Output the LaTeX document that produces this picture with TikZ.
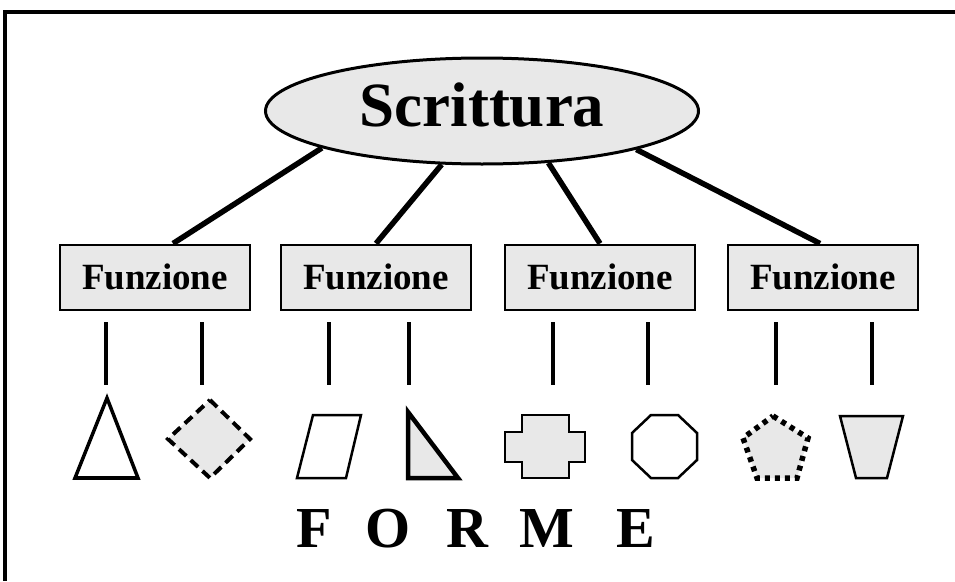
\documentclass[tikz,border=0pt]{standalone}
\usepackage{fontspec}
\setmainfont{Liberation Serif}
\usetikzlibrary{shapes.geometric,calc}
\definecolor{shade}{HTML}{E8E8E8}
\tikzset{
  topnode/.style={ellipse,draw,line width=3pt,fill=shade,minimum width=433pt,minimum height=106pt,inner sep=0pt,
    font=\fontsize{63}{70}\selectfont\bfseries,text depth=12pt},
  funbox/.style={rectangle,draw,line width=2pt,fill=shade,minimum width=190pt,minimum height=65pt,inner sep=0pt,
    font=\fontsize{37}{40}\selectfont\bfseries},
  branch/.style={line width=5.5pt},
  stem/.style={line width=3.5pt},
  frameline/.style={line width=4.5pt},
  formstyle/.style={fill=white,draw,line width=2.5pt,line join=miter},
}
\begin{document}
\begin{tikzpicture}[x=1pt,y=-1pt]
\useasboundingbox (0,0) rectangle (955,581);
% frame (cut off at right and bottom)
\draw[frameline] (955,12) -- (5,12) -- (5,581);
% top node
\node[topnode] (e) at (482,111) {Scrittura};
% function boxes
\node[funbox] (f1) at (155,277) {Funzione};
\node[funbox] (f2) at (376,277) {Funzione};
\node[funbox] (f3) at (600,277) {Funzione};
\node[funbox] (f4) at (823,277) {Funzione};
% branches
\draw[branch] (e.193.5) -- ($(f1.north)+(18,0)$);
\draw[branch] (e.233) -- (f2.north);
\draw[branch] (e.322) -- (f3.north);
\draw[branch] (e.346) -- ($(f4.north)+(-3,0)$);
% stems
\foreach \i/\x in {1/106,2/202,3/329,4/409,5/553,6/648,7/776,8/872}{
  \coordinate (s\i a) at (\x,322);
  \coordinate (s\i b) at (\x,385);
  \draw[stem] (s\i a) -- (s\i b);
}
% shapes
\draw[formstyle,line width=3.5pt] (107,398) -- (138,478) -- (75,478) -- cycle;
\draw[line width=4.5pt] (75,478) -- (138,478);
\draw[fill=shade,line width=4pt,dash pattern=on 10pt off 6pt] (210,400) -- (250,439) -- (210,478) -- (168,439) -- cycle;
\draw[formstyle] (313,415) -- (361,415) -- (346,478) -- (297,478) -- cycle;
\draw[fill=shade,line width=4.5pt] (408,412) -- (458,478) -- (408,478) -- cycle;
\draw[fill=shade,line width=2.5pt] (522,415) -- (569,415) -- (569,432) -- (585,432) -- (585,462) -- (569,462) -- (569,478) -- (522,478) -- (522,462) -- (505,462) -- (505,432) -- (522,432) -- cycle;
\draw[formstyle] (651,415) -- (678,415) -- (697,433) -- (697,460) -- (678,478) -- (651,478) -- (632,460) -- (632,433) -- cycle;
\draw[fill=shade,line width=5.5pt,dash pattern=on 5pt off 5pt] (773,416) -- (808,438) -- (797,478) -- (757,478) -- (743,438) -- cycle;
\draw[fill=shade,line width=2.5pt] (840,416) -- (903,416) -- (887,478) -- (856,478) -- cycle;
% label
\node[anchor=base west,inner sep=0pt,font=\fontsize{58}{64}\selectfont\bfseries] (forme) at (296,547)
  {F\hspace{34pt}O\hspace{36pt}R\hspace{31pt}M\hspace{42pt}E};
\end{tikzpicture}
\end{document}
